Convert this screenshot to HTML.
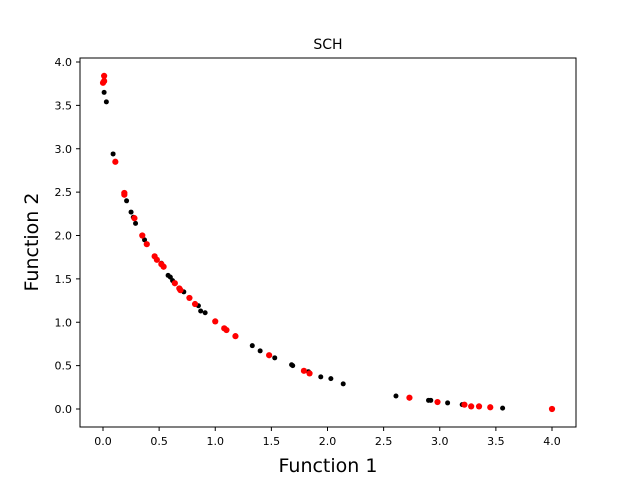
<!DOCTYPE html>
<html><head><meta charset="utf-8"><style>body{margin:0;background:#fff}svg{display:block;font-family:"DejaVu Sans","Liberation Sans",sans-serif}</style></head>
<body>
<svg id="c" width="640" height="480">
<rect x="0" y="0" width="640" height="480" fill="#fff"/>
<g id="marks"></g>
<rect x="80" y="58" width="496" height="369" fill="none" stroke="#000" stroke-width="1"/>
<g id="axes"></g>
<text x="328" y="49" text-anchor="middle" font-size="14">SCH</text>
<text x="328" y="472" text-anchor="middle" font-size="19">Function 1</text>
<text transform="translate(38,242) rotate(-90)" text-anchor="middle" font-size="19">Function 2</text>
</svg>
<script>
const xTicks=[0,0.5,1,1.5,2,2.5,3,3.5,4];
const yTicks=[0,0.5,1,1.5,2,2.5,3,3.5,4];
const blackX=[0.01,0.03,0.09,0.21,0.25,0.27,0.29,0.37,0.52,0.58,0.60,0.62,0.72,0.85,0.87,0.91,1.33,1.40,1.53,1.68,1.69,1.83,1.94,2.03,2.14,2.61,2.90,2.92,3.07,3.20,3.56];
const blackY=[3.65,3.54,2.94,2.40,2.27,2.21,2.14,1.95,1.68,1.54,1.52,1.48,1.35,1.19,1.13,1.11,0.73,0.67,0.59,0.51,0.50,0.43,0.37,0.35,0.29,0.15,0.10,0.10,0.07,0.05,0.01];
const redX=[0.01,0.01,0.0,0.11,0.19,0.19,0.28,0.35,0.39,0.46,0.48,0.52,0.54,0.64,0.68,0.69,0.77,0.82,1.0,1.08,1.10,1.18,1.48,1.79,1.84,2.73,2.98,3.22,3.28,3.35,3.45,4.0];
const redY=[3.84,3.78,3.76,2.85,2.49,2.47,2.20,2.00,1.90,1.76,1.72,1.67,1.64,1.45,1.39,1.37,1.28,1.21,1.01,0.93,0.91,0.84,0.62,0.44,0.41,0.13,0.08,0.05,0.03,0.03,0.02,0.0];
const sx=v=>103+v*112.25, sy=v=>409-v*86.75;
const NS="http://www.w3.org/2000/svg";
const marks=document.getElementById('marks'), axes=document.getElementById('axes');
function mk(tag,a,p){const e=document.createElementNS(NS,tag);for(const k in a)e.setAttribute(k,a[k]);p.appendChild(e);return e;}
blackX.forEach((x,i)=>{const c=mk('circle',{cx:sx(x),cy:sy(blackY[i]),r:2.5,fill:'#000'},marks);

});
redX.forEach((x,i)=>{const c=mk('circle',{cx:sx(x),cy:sy(redY[i]),r:3.1,fill:'#f00'},marks);

});
xTicks.forEach(t=>{const x=sx(t);mk('line',{x1:x,x2:x,y1:427,y2:431,stroke:'#000'},axes);
const tx=mk('text',{x:x,y:445,'text-anchor':'middle','font-size':11},axes);tx.textContent=t.toFixed(1);

});
yTicks.forEach(t=>{const y=sy(t);mk('line',{x1:76,x2:80,y1:y,y2:y,stroke:'#000'},axes);
const tx=mk('text',{x:72,y:y+4,'text-anchor':'end','font-size':11},axes);tx.textContent=t.toFixed(1);

});
</script>
</body></html>
